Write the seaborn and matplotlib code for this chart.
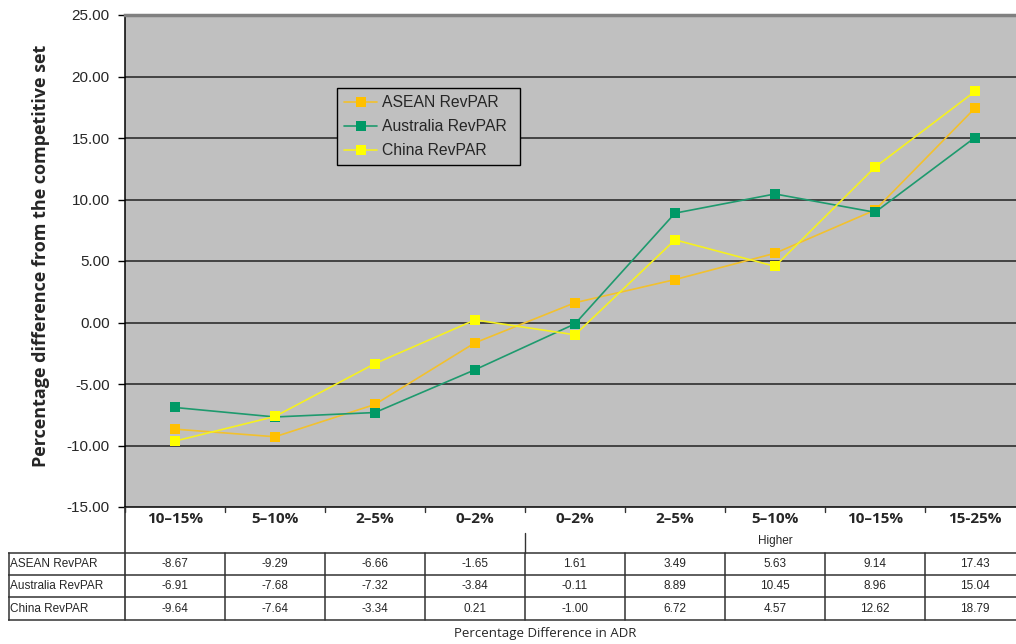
import matplotlib
matplotlib.use("Agg")
import matplotlib.pyplot as plt
from matplotlib.lines import Line2D
import seaborn as sns
import pandas as pd

# ADR bands (lower -> higher than competitive set)
categories = ["10–15%", "5–10%", "2–5%", "0–2%", "0–2%", "2–5%", "5–10%", "10–15%", "15-25%"]
series_names = ["ASEAN RevPAR", "Australia RevPAR", "China RevPAR"]
asean = [-8.67, -9.29, -6.66, -1.65, 1.61, 3.49, 5.63, 9.14, 17.43]
australia = [-6.91, -7.68, -7.32, -3.84, -0.11, 8.89, 10.45, 8.96, 15.04]
china = [-9.64, -7.64, -3.34, 0.21, -1.00, 6.72, 4.57, 12.62, 18.79]
yticks = [-15, -10, -5, 0, 5, 10, 15, 20, 25]

colors = {"ASEAN RevPAR": "#FFC000", "Australia RevPAR": "#009966", "China RevPAR": "#FFFF00"}
line_colors = {"ASEAN RevPAR": "#F2C12E", "Australia RevPAR": "#1E9A6E", "China RevPAR": "#F5F020"}

sns.set_style("white")
plt.rcParams["font.family"] = ["Liberation Sans", "DejaVu Sans"]

W, H = 1016, 644
fig = plt.figure(figsize=(W / 100, H / 100), dpi=100)
fig.patch.set_facecolor("white")

def fig_rect(x0, y0, x1, y1):
    return [x0 / W, 1 - y1 / H, (x1 - x0) / W, (y1 - y0) / H]

ax = fig.add_axes(fig_rect(125, 15, 1025, 507))
ax.set_facecolor("#C0C0C0")

rows = []
for name, vals in zip(series_names, [asean, australia, china]):
    for i, v in enumerate(vals):
        rows.append({"pos": i, "value": v, "series": name})
df = pd.DataFrame(rows)

# lines
sns.lineplot(data=df, x="pos", y="value", hue="series", hue_order=series_names,
             palette=line_colors, linewidth=1.2, legend=False, ax=ax, zorder=3)
# square markers
for name in series_names:
    sub = df[df.series == name]
    ax.plot(sub["pos"], sub["value"], linestyle="none", marker="s", markersize=7.5,
            markerfacecolor=colors[name], markeredgewidth=0, zorder=4)

ax.set_xlim(-0.5, 8.5)
ax.set_ylim(-15, 25)
ax.set_yticks(yticks)
ax.set_yticklabels([f"{t:.2f}" for t in yticks], fontsize=11)
ax.set_xticks([])
ax.set_xlabel("")
ax.set_ylabel("Percentage difference from the competitive set", fontsize=13,
              fontweight="bold", family=["Open Sans", "DejaVu Sans"])
ax.yaxis.set_label_coords(-0.083, 0.51)
ax.tick_params(axis="y", direction="out", length=5, width=1, color="black", pad=6, left=True)
for t in yticks[1:-1]:
    ax.axhline(t, color="#222222", linewidth=1.1, zorder=1)
for s in ["left", "bottom"]:
    ax.spines[s].set_color("black")
    ax.spines[s].set_linewidth(1.1)
ax.spines["top"].set_color("#808080")
ax.spines["top"].set_linewidth(2.5)
ax.spines["right"].set_visible(False)

handles = [Line2D([0], [0], color=line_colors[n], linewidth=1.2, marker="s", markersize=7.5,
                  markerfacecolor=colors[n], markeredgewidth=0) for n in series_names]
leg = ax.legend(handles, series_names, loc="upper left", mode="expand",
                bbox_to_anchor=(337 / W, 1 - 170 / H, 183 / W, 82 / H),
                bbox_transform=fig.transFigure,
                frameon=True, fancybox=False, fontsize=11.3, handlelength=2.1,
                handletextpad=0.3, borderpad=0.45, labelspacing=0.58, borderaxespad=0)
leg.get_frame().set_edgecolor("black")
leg.get_frame().set_facecolor("#C0C0C0")
leg.get_frame().set_linewidth(1.0)
leg.get_frame().set_alpha(1)

# data table below the plot
axt = fig.add_axes(fig_rect(8, 507, 1025, 625))
axt.set_xlim(-1.67, 8.5)
axt.set_ylim(118, 0)
axt.axis("off")
lc = "#333333"
# header category labels
for i, c in enumerate(categories):
    axt.text(i, 12, c, ha="center", va="center", fontsize=11, fontweight="bold",
             family=["Open Sans", "DejaVu Sans"])
axt.text(6.0, 34, "Higher", ha="center", va="center", fontsize=8.5)
# tick marks between category columns
for b in [k + 0.5 for k in range(-1, 9)]:
    axt.plot([b, b], [0, 5], color=lc, linewidth=1)
axt.plot([-0.5, -0.5], [0, 113], color=lc, linewidth=1.2)
axt.plot([3.5, 3.5], [26, 46], color=lc, linewidth=1)
# rows
row_tops = [46, 68, 90, 113]
for y in row_tops:
    axt.plot([-1.67, 8.5], [y, y], color=lc, linewidth=1.1)
axt.plot([-1.665, -1.665], [46, 113], color=lc, linewidth=1.1)
for b in [k + 0.5 for k in range(0, 8)]:
    axt.plot([b, b], [46, 113], color=lc, linewidth=1.1)
for r, (name, vals) in enumerate(zip(series_names, [asean, australia, china])):
    yc = (row_tops[r] + row_tops[r + 1]) / 2
    axt.text(-1.65, yc, name, ha="left", va="center", fontsize=8.5)
    for i, v in enumerate(vals):
        axt.text(i, yc, f"{v:.2f}", ha="center", va="center", fontsize=8.5)

fig.text(545 / W, 1 - 633 / H, "Percentage Difference in ADR", ha="center", va="center",
         fontsize=9.5, family=["Open Sans", "DejaVu Sans"])

fig.savefig("out.png", dpi=100)
